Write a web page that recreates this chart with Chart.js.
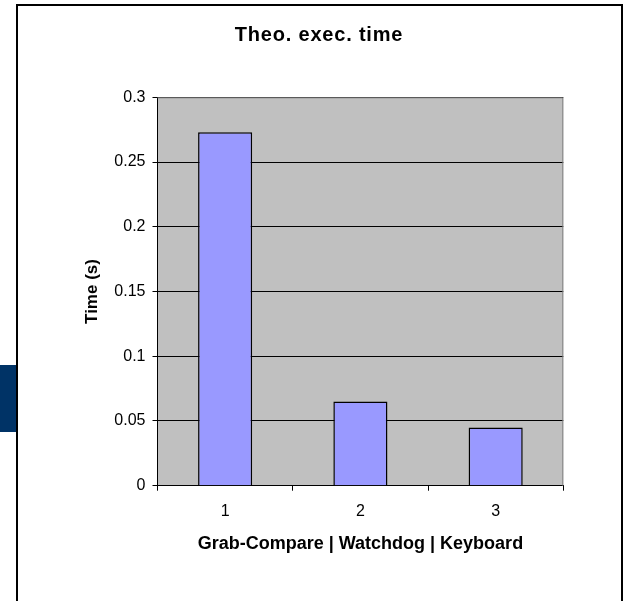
<!DOCTYPE html>
<html lang="en">
<head>
    <meta charset="UTF-8">
    <title>Theo. exec. time</title>
    <script src="https://cdn.jsdelivr.net/npm/chart.js"></script>
    <style>
        body {
            margin: 0;
            padding: 0;
            background-color: #fff;
            width: 628px;
            height: 601px;
            overflow: hidden;
            position: relative;
        }

        #frame {
            position: absolute;
            left: 16px;
            top: 4px;
            width: 607px;
            height: 640px;
            border: 2px solid #000;
            box-sizing: border-box;
        }

        #tab {
            position: absolute;
            left: 0;
            top: 365px;
            width: 16px;
            height: 67px;
            background-color: #003366;
        }

        canvas {
            position: absolute;
            left: 0;
            top: 0;
        }
    </style>
</head>
<body>

<div id="frame"></div>
<div id="tab"></div>
<canvas id="mainCanvas" width="628" height="601"></canvas>

<script>
    const chartTitle = 'Theo. exec. time';
    const categories = ['1', '2', '3'];
    const execTimes = [0.273, 0.065, 0.045];
    const yMin = 0;
    const yMax = 0.3;
    const yStep = 0.05;

    const fontFamily = '"Liberation Sans", Arial, sans-serif';

    // fondo gris del area del grafico + borde gris arriba/derecha
    const plotBackground = {
        id: 'plotBackground',
        beforeDraw(chart) {
            const {ctx, chartArea} = chart;
            ctx.save();
            ctx.fillStyle = '#c0c0c0';
            ctx.fillRect(chartArea.left, chartArea.top, chartArea.right - chartArea.left, chartArea.bottom - chartArea.top);
            ctx.restore();
        },
        beforeDatasetsDraw(chart) {
            const {ctx, chartArea} = chart;
            ctx.save();
            ctx.strokeStyle = '#808080';
            ctx.lineWidth = 1;
            ctx.beginPath();
            ctx.moveTo(chartArea.left, chartArea.top + 0.5);
            ctx.lineTo(chartArea.right - 0.5, chartArea.top + 0.5);
            ctx.lineTo(chartArea.right - 0.5, chartArea.bottom);
            ctx.stroke();
            ctx.restore();
        },
        // titulo centrado en el marco, no en el area del grafico
        afterDraw(chart) {
            const {ctx} = chart;
            ctx.save();
            ctx.font = 'bold 20px ' + fontFamily;
            ctx.letterSpacing = '0.8px';
            ctx.fillStyle = '#000';
            ctx.textAlign = 'center';
            ctx.textBaseline = 'alphabetic';
            ctx.fillText(chartTitle, 319, 40.5);
            ctx.restore();
        }
    };

    const ctx = document.getElementById('mainCanvas').getContext('2d');
    new Chart(ctx, {
        type: 'bar',
        data: {
            labels: categories,
            datasets: [{
                label: chartTitle,
                data: execTimes,
                backgroundColor: '#9999ff',
                borderColor: '#000',
                borderWidth: 1.5,
                barPercentage: 0.4,
                categoryPercentage: 1
            }]
        },
        options: {
            responsive: false,
            animation: false,
            layout: {
                padding: {left: 0, right: 64.7, top: 97.3, bottom: 0}
            },
            plugins: {
                legend: {display: false},
                tooltip: {enabled: false},
                title: {display: false}
            },
            scales: {
                x: {
                    offset: true,
                    afterFit: (scale) => { scale.height = 115.3; },
                    grid: {
                        offset: true,
                        drawOnChartArea: false,
                        drawTicks: true,
                        tickLength: 5,
                        color: '#000'
                    },
                    border: {color: '#000', width: 1},
                    ticks: {
                        color: '#000',
                        padding: 11,
                        font: {family: fontFamily, size: 16}
                    },
                    title: {
                        display: true,
                        text: 'Grab-Compare | Watchdog | Keyboard',
                        color: '#000',
                        font: {family: fontFamily, size: 18, weight: 'bold'},
                        padding: {top: 0, bottom: 46.2}
                    }
                },
                y: {
                    min: yMin,
                    max: yMax,
                    afterFit: (scale) => { scale.width = 157.5; },
                    grid: {
                        color: '#000',
                        tickLength: 5,
                        drawTicks: true
                    },
                    border: {color: '#000', width: 1},
                    ticks: {
                        stepSize: yStep,
                        color: '#000',
                        padding: 7,
                        font: {family: fontFamily, size: 16},
                        callback: (v) => String(parseFloat(v.toFixed(2)))
                    },
                    title: {
                        display: true,
                        text: 'Time (s)',
                        color: '#000',
                        font: {family: fontFamily, size: 17, weight: 'bold'},
                        padding: {top: 81.8, bottom: 0}
                    }
                }
            }
        },
        plugins: [plotBackground]
    });
</script>
</body>
</html>
